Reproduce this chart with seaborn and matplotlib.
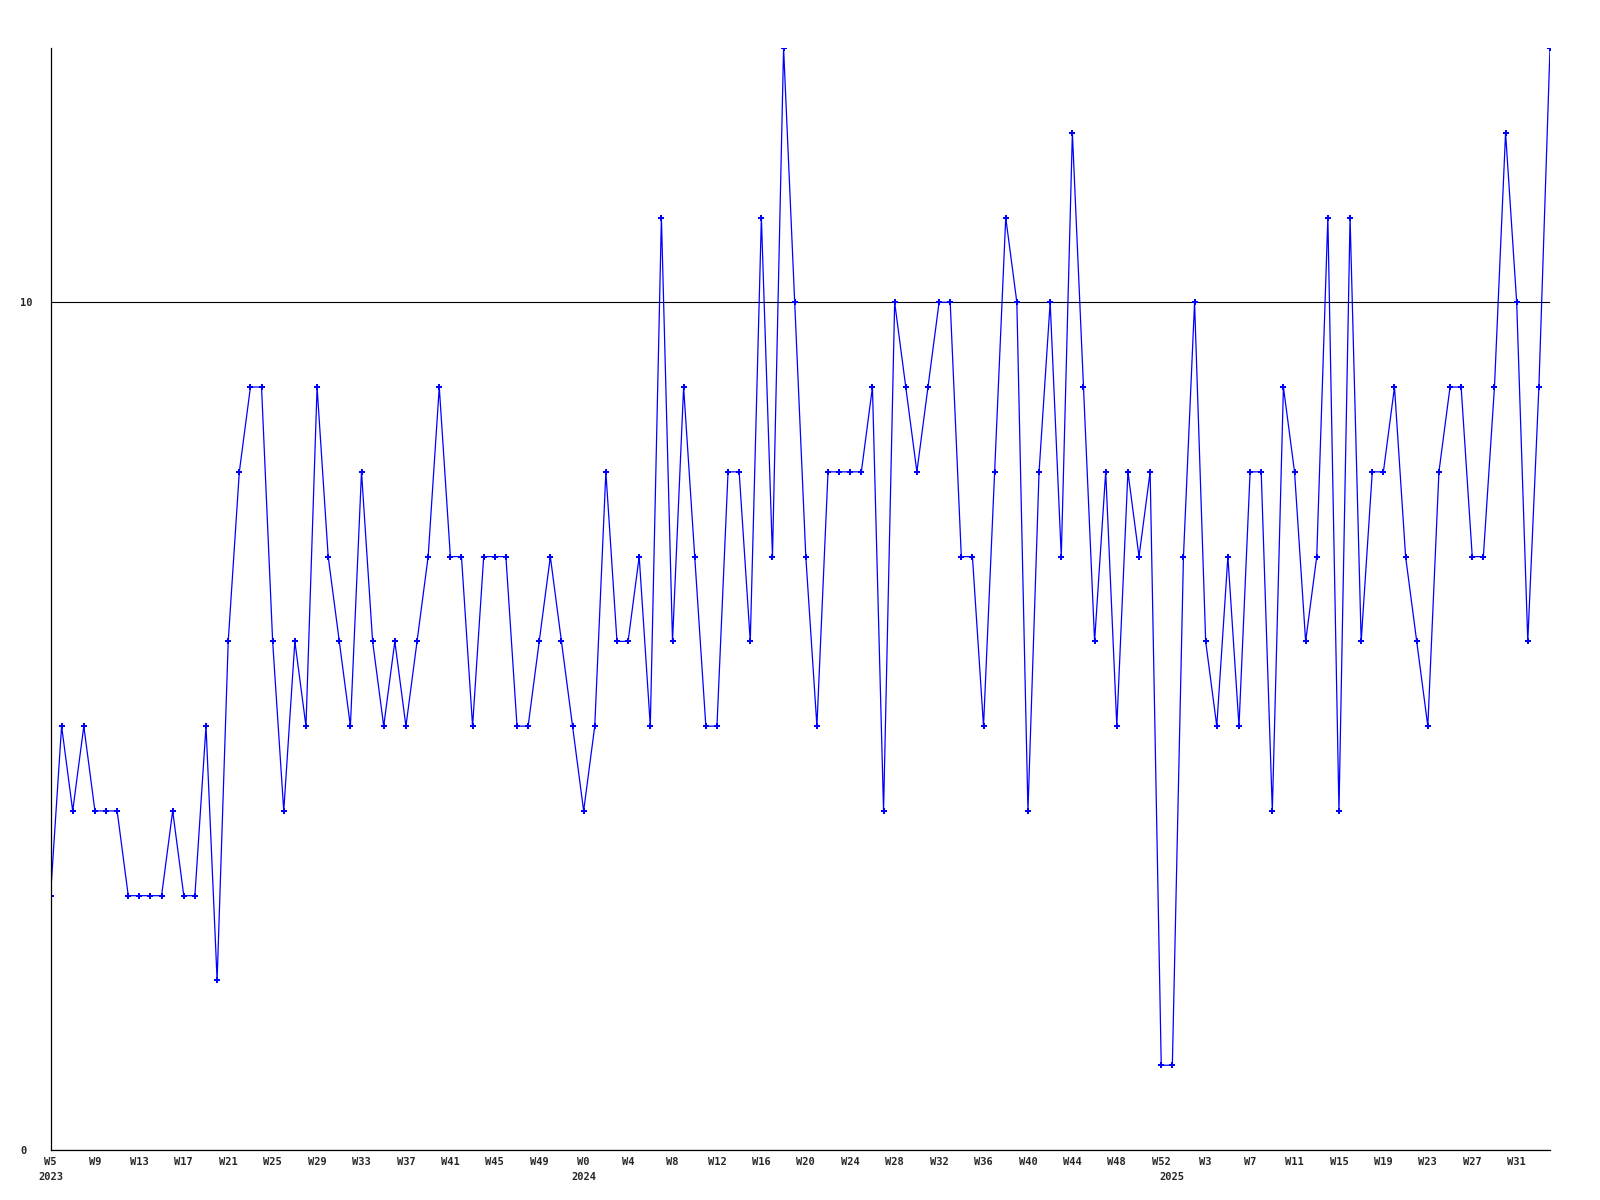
import matplotlib
matplotlib.use("Agg")
import matplotlib.pyplot as plt
import seaborn as sns
import pandas as pd

# ---- data (weekly values, W5 2023 .. W34 2025) ----
values = [3, 5, 4, 5, 4, 4, 4, 3, 3, 3, 3, 4, 3, 3, 5, 2, 6, 8, 9, 9,
          6, 4, 6, 5, 9, 7, 6, 5, 8, 6, 5, 6, 5, 6, 7, 9, 7, 7, 5, 7,
          7, 7, 5, 5, 6, 7, 6, 5, 4, 5, 8, 6, 6, 7, 5, 11, 6, 9, 7, 5,
          5, 8, 8, 6, 11, 7, 13, 10, 7, 5, 8, 8, 8, 8, 9, 4, 10, 9, 8, 9,
          10, 10, 7, 7, 5, 8, 11, 10, 4, 8, 10, 7, 12, 9, 6, 8, 5, 8, 7, 8,
          1, 1, 7, 10, 6, 5, 7, 5, 8, 8, 4, 9, 8, 6, 7, 11, 4, 11, 6, 8,
          8, 9, 7, 6, 5, 8, 9, 9, 7, 7, 9, 12, 10, 6, 9, 13]
week_labels = ["W5", "W9", "W13", "W17", "W21", "W25", "W29", "W33", "W37",
               "W41", "W45", "W49", "W0", "W4", "W8", "W12", "W16", "W20",
               "W24", "W28", "W32", "W36", "W40", "W44", "W48", "W52", "W3",
               "W7", "W11", "W15", "W19", "W23", "W27", "W31"]
years = ["2023", "2024", "2025"]
year_start = [0, 48, 101]
y_ticks = [0, 10]

df = pd.DataFrame({"week": range(len(values)), "value": values})

sns.set_theme(style="white")
plt.rcParams["font.family"] = ["DejaVu Sans Mono", "DejaVu Sans"]

fig = plt.figure(figsize=(16, 12), dpi=100)
ax = fig.add_axes([50.5 / 1600, 50 / 1200, (1550 - 50.5) / 1600, (1151 - 49) / 1200])

sns.lineplot(data=df, x="week", y="value", ax=ax, color="#0000ff",
             linewidth=0.9, marker="P", markersize=4, markeredgewidth=0,
             markerfacecolor="#0000ff")

ax.set_xlim(0, len(values) - 1)
ax.set_ylim(0, 13)

# major ticks: week labels every 4 weeks; minor ticks: year under first week
ax.xaxis.remove_overlapping_locs = False
ax.set_xticks([i * 4 for i in range(len(week_labels))])
ax.set_xticklabels(week_labels, fontsize=7.5, fontweight="bold")
ax.set_xticks(year_start, minor=True)
ax.set_xticklabels(years, minor=True, fontsize=7.5, fontweight="bold")
ax.tick_params(axis="x", which="major", length=0, pad=5)
ax.tick_params(axis="x", which="minor", length=0, pad=16)

ax.set_yticks(y_ticks)
ax.set_yticklabels([str(t) for t in y_ticks], fontsize=7.5, fontweight="bold",
                   ha="left")
ax.tick_params(axis="y", length=0, pad=22)

ax.yaxis.grid(True, which="major", color="black", linewidth=0.8)
ax.xaxis.grid(False, which="both")
ax.set_xlabel("")
ax.set_ylabel("")
for side in ["top", "right"]:
    ax.spines[side].set_visible(False)
for side in ["left", "bottom"]:
    ax.spines[side].set_color("black")
    ax.spines[side].set_linewidth(0.9)

fig.savefig("out.png", dpi=100, facecolor="white")
